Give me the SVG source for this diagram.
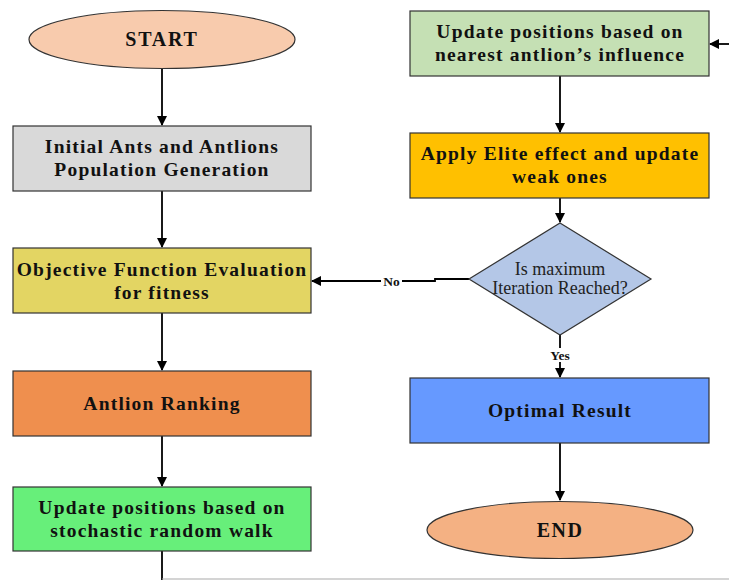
<svg xmlns="http://www.w3.org/2000/svg" width="729" height="580" viewBox="0 0 729 580">
<style>
.box{stroke:#333;stroke-width:1.2}
.t{font-family:"Liberation Serif","Times New Roman",serif;font-weight:bold;font-size:19.5px;fill:#111;text-anchor:middle;letter-spacing:1.2px}
.d{font-family:"Liberation Serif","Times New Roman",serif;font-size:18px;fill:#222;text-anchor:middle}
.l{font-family:"Liberation Serif","Times New Roman",serif;font-weight:bold;font-size:13.5px;fill:#111;text-anchor:middle}
.c{stroke:#000;stroke-width:1.8;fill:none}
</style>
<defs>
<marker id="ah" markerWidth="10" markerHeight="10" refX="9" refY="5" orient="auto" markerUnits="userSpaceOnUse">
<path d="M0,0 L10,5 L0,10 z" fill="#000"/>
</marker>
</defs>
<rect width="729" height="580" fill="#fff"/>
<g id="connectors">
<line class="c" x1="162" y1="69" x2="162" y2="125" marker-end="url(#ah)"/>
<line class="c" x1="162" y1="191" x2="162" y2="247" marker-end="url(#ah)"/>
<line class="c" x1="162" y1="313" x2="162" y2="370" marker-end="url(#ah)"/>
<line class="c" x1="162" y1="436" x2="162" y2="486" marker-end="url(#ah)"/>
<line class="c" x1="162" y1="551" x2="162" y2="580"/>
<line x1="162" y1="579" x2="729" y2="579" stroke="#aaa" stroke-width="1.2"/>
<line class="c" x1="729" y1="44" x2="710" y2="44" marker-end="url(#ah)"/>
<line class="c" x1="560" y1="76" x2="560" y2="132" marker-end="url(#ah)"/>
<line class="c" x1="560" y1="198" x2="560" y2="222" marker-end="url(#ah)"/>
<path class="c" d="M469,279 L435,279 L435,281 L312,281" marker-end="url(#ah)"/>
<line class="c" x1="560" y1="335" x2="560" y2="377" marker-end="url(#ah)"/>
<line class="c" x1="560" y1="443" x2="560" y2="500" marker-end="url(#ah)"/>
<rect x="381" y="274" width="21" height="14" fill="#fff"/>
<text class="l" x="391.5" y="285.5">No</text>
<rect x="547" y="348" width="26" height="14" fill="#fff"/>
<text class="l" x="560" y="360">Yes</text>
</g>
<g id="start">
<ellipse class="box" cx="162" cy="39.5" rx="133" ry="29" fill="#f8cbad"/>
<text class="t" x="162" y="46" style="font-size:20px;letter-spacing:1.8px">START</text>
</g>
<g id="init">
<rect class="box" x="13" y="126" width="298" height="65" fill="#d9d9d9"/>
<text class="t" x="162" y="153">Initial Ants and Antlions</text>
<text class="t" x="162" y="176">Population Generation</text>
</g>
<g id="objective">
<rect class="box" x="13" y="248" width="298" height="65" fill="#e3d563"/>
<text class="t" x="162" y="276">Objective Function Evaluation</text>
<text class="t" x="162" y="299">for fitness</text>
</g>
<g id="ranking">
<rect class="box" x="13" y="371" width="298" height="65" fill="#ef8f4e"/>
<text class="t" x="162" y="410">Antlion Ranking</text>
</g>
<g id="randomwalk">
<rect class="box" x="13" y="487" width="298" height="64" fill="#67ef7a"/>
<text class="t" x="162" y="514">Update positions based on</text>
<text class="t" x="162" y="537">stochastic random walk</text>
</g>
<g id="nearest">
<rect class="box" x="410" y="11" width="299" height="65" fill="#c5e0b4"/>
<text class="t" x="560" y="38">Update positions based on</text>
<text class="t" x="560" y="61">nearest antlion’s influence</text>
</g>
<g id="elite">
<rect class="box" x="410" y="133" width="299" height="65" fill="#ffc000"/>
<text class="t" x="560" y="160">Apply Elite effect and update</text>
<text class="t" x="560" y="183">weak ones</text>
</g>
<g id="decision">
<polygon class="box" points="560,223 651,279 560,335 469,279" fill="#b4c7e7"/>
<text class="d" x="560" y="275">Is maximum</text>
<text class="d" x="560" y="294">Iteration Reached?</text>
</g>
<g id="optimal">
<rect class="box" x="410" y="378" width="299" height="65" fill="#6699ff"/>
<text class="t" x="560" y="417">Optimal Result</text>
</g>
<g id="end">
<ellipse class="box" cx="560" cy="530" rx="133" ry="28.5" fill="#f4b183"/>
<text class="t" x="560" y="537" style="font-size:20px;letter-spacing:1.5px">END</text>
</g>
</svg>
